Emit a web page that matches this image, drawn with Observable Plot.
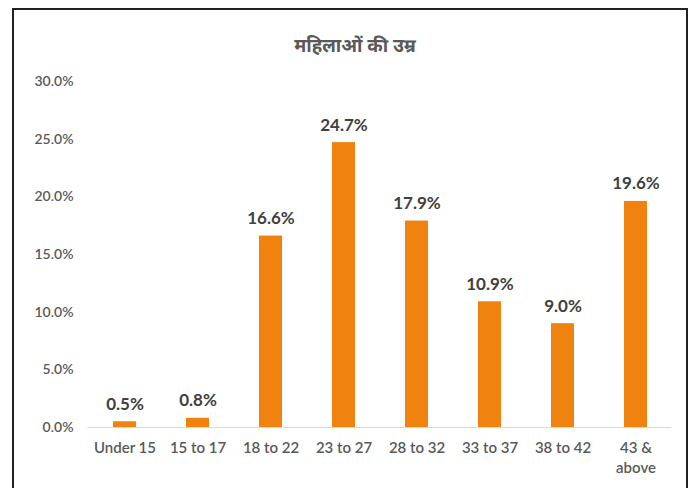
<!DOCTYPE html>
<html>
<head>
<meta charset="utf-8">
<script src="https://cdn.jsdelivr.net/npm/d3@7"></script>
<script src="https://cdn.jsdelivr.net/npm/@observablehq/plot@0.6"></script>
<style>
  html, body { margin: 0; padding: 0; background: #fff; }
  #wrap { position: relative; width: 699px; height: 488px; overflow: hidden; background: #fff; }
  #frame { position: absolute; left: 12px; top: 8px; width: 676px; height: 490px;
           border: 2px solid #222; border-bottom: none; box-sizing: border-box; }
  #title { position: absolute; left: 0; top: 35px; width: 710px; text-align: center;
           font-family: "Noto Sans Devanagari", "Noto Sans", Lato, sans-serif; font-weight: bold;
           font-size: 18.5px; color: #595959; line-height: 26px; }
  #chart { position: absolute; left: 0; top: 0; }
</style>
</head>
<body>
<div id="wrap">
  <div id="frame"></div>
  <div id="title">महिलाओं की उम्र</div>
  <div id="chart"></div>
</div>
<script>
const categories = ["Under 15", "15 to 17", "18 to 22", "23 to 27", "28 to 32", "33 to 37", "38 to 42", "43 &\nabove"];
const values = [0.005, 0.008, 0.166, 0.247, 0.179, 0.109, 0.090, 0.196];
const yTicks = [0, 0.05, 0.10, 0.15, 0.20, 0.25, 0.30];

const data = categories.map((c, i) => ({ cat: c, v: values[i] }));

const chart = Plot.plot({
  width: 699,
  height: 488,
  marginLeft: 87.5,
  marginRight: 27.5,
  marginTop: 81,
  marginBottom: 61,
  style: { fontFamily: "Lato, 'Open Sans', sans-serif", background: "transparent", overflow: "visible" },
  x: { domain: categories, paddingInner: 0.685, paddingOuter: 0.3425, label: null },
  y: { domain: [0, 0.30], label: null },
  marks: [
    Plot.axisY({ ticks: yTicks, tickFormat: d3.format(".1%"), tickSize: 0, tickPadding: 14.5,
                 fontSize: 14, fontWeight: 600, fill: "#595959", label: null }),
    Plot.axisX({ tickSize: 0, tickPadding: 12, fontSize: 15, fontWeight: 600, fill: "#595959", label: null,
                 lineHeight: 1.3 }),
    Plot.ruleY([0], { stroke: "#d9d9d9", strokeWidth: 1 }),
    Plot.barY(data, { x: "cat", y: "v", fill: "#F0820F" }),
    Plot.text(data, { x: "cat", y: "v", text: d => d3.format(".1%")(d.v), dy: -17.5,
                      fontSize: 17, fontWeight: "bold", fill: "#404040" })
  ]
});
document.getElementById("chart").appendChild(chart);
</script>
</body>
</html>
